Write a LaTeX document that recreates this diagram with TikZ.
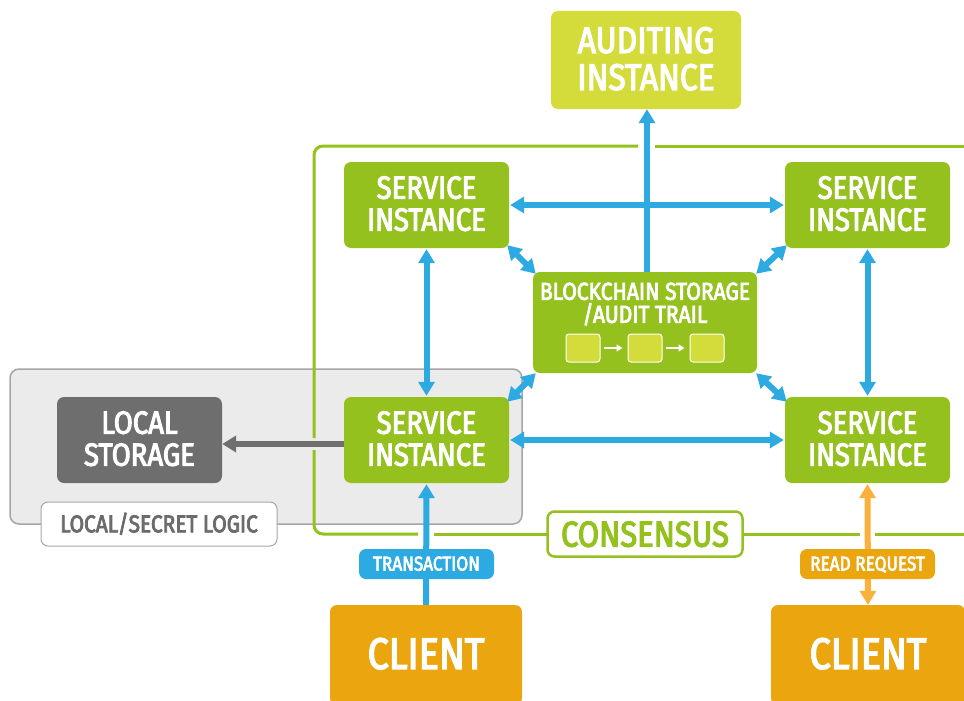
\documentclass[tikz,border=0pt]{standalone}
\usepackage{fontspec}
\setmainfont{Fira Sans}
\newfontfamily\din[FakeBold=3.2,FakeStretch=0.86]{Fira Sans}
\usetikzlibrary{arrows.meta}
\definecolor{grn}{HTML}{95C11F}
\definecolor{ylw}{HTML}{D4DC3C}
\definecolor{blu}{HTML}{2DAAE1}
\definecolor{org}{HTML}{EBA50E}
\definecolor{lorg}{HTML}{FBB03B}
\definecolor{dgr}{HTML}{6E6E6E}
\tikzset{
  box/.style={rounded corners=7pt,inner sep=0pt,align=center,text=white,text depth=3pt},
  boxtext/.style={font=\din\fontsize{#1}{#1}\selectfont},
  service/.style={box,fill=grn,minimum width=165pt,minimum height=86pt,boxtext=32},
  tag/.style={box,minimum width=135pt,minimum height=30pt,boxtext=20,text depth=1pt},
  client/.style={box,fill=org,minimum width=192pt,minimum height=100pt,boxtext=44},
  bi/.style={line width=6pt,blu,{Triangle[width=16pt,length=14pt]}-{Triangle[width=16pt,length=14pt]}},
  one/.style={line width=6pt,-{Triangle[width=16pt,length=14pt]}},
  bk/.style={draw=white,fill=ylw,line width=1pt,rounded corners=3pt,minimum width=34pt,minimum height=28pt,inner sep=0pt},
  wa/.style={draw=white,line width=1.6pt,-{Triangle[width=7pt,length=6pt]},shorten <=3pt,shorten >=5pt},
  cons/.style={draw=grn,line width=3pt},
}
\begin{document}
\begin{tikzpicture}[x=1pt,y=-1pt]
\useasboundingbox (0,0) rectangle (964,701);
% panel
\node[draw=black!35,fill=black!8,line width=1.5pt,rounded corners=9pt,minimum width=512pt,minimum height=155pt,inner sep=0pt] (panel) at (266,446.5) {};
% consensus frame
\coordinate (ctr) at (964,146);
\coordinate (cbr) at (964,534);
\draw[cons,rounded corners=9pt] (638,146) -- (314,146) -- (314,438);
\draw[cons] (655,146) -- (ctr);
\draw[cons,rounded corners=9pt] (314,450) -- (314,534) -- (418,534);
\draw[cons] (434,534) -- (547,534);
\draw[cons] (743,534) -- (860,534);
\draw[cons] (875,534) -- (cbr);
% nodes
\node[box,fill=ylw,minimum width=190pt,minimum height=98pt,boxtext=37] (audit) at (646,60) {AUDITING\\INSTANCE};
\node[service] (s1) at (426.5,205) {SERVICE\\INSTANCE};
\node[service] (s2) at (867.5,205) {SERVICE\\INSTANCE};
\node[service] (s3) at (426.5,440) {SERVICE\\INSTANCE};
\node[service] (s4) at (867.5,440) {SERVICE\\INSTANCE};
\node[box,fill=dgr,minimum width=165pt,minimum height=86pt,boxtext=32] (local) at (139.5,440) {LOCAL\\STORAGE};
\node[box,fill=grn,minimum width=224pt,minimum height=101pt] (chain) at (645,322.5) {};
\node[text=white,align=center,font=\din\fontsize{24.5}{23}\selectfont] (chaintxt) at (645,304) {BLOCKCHAIN STORAGE\\/AUDIT TRAIL};
\node[bk] (b1) at (583,348) {};
\node[bk] (b2) at (645,348) {};
\node[bk] (b3) at (707,348) {};
\draw[wa] (b1) -- (b2);
\draw[wa] (b2) -- (b3);
\node[client] (c1) at (426,655) {CLIENT};
\node[client,minimum width=194pt] (c2) at (868,655) {CLIENT};
\node[box,draw=black!35,fill=white,line width=1pt,minimum width=236pt,minimum height=44pt,text=black!58,boxtext=24.3] (logic) at (159,524) {LOCAL/SECRET LOGIC};
\node[box,draw=grn,fill=white,line width=2.5pt,minimum width=195pt,minimum height=45pt,text=grn,boxtext=36,text depth=0pt] (cnode) at (645,534) {CONSENSUS};
% connectors
\draw[one,dgr] (s3.west |- 0,444) -- (local.east |- 0,444);
\draw[bi] ([xshift=1pt]s1.east) -- ([xshift=-1pt]s2.west);
\draw[bi] ([xshift=1pt]s3.east) -- ([xshift=-1pt]s4.west);
\draw[bi] ([yshift=-1pt]s1.south) -- ([yshift=1pt]s3.north);
\draw[bi] ([yshift=-1pt]s2.south) -- ([yshift=1pt]s4.north);
\draw[one,blu] (chain.north -| 647,0) -- (audit.south -| 647,0);
\draw[bi] ([xshift=-2pt,yshift=3pt]s1.south east) -- ([xshift=3pt,yshift=-2pt]chain.north west);
\draw[bi] ([xshift=2pt,yshift=3pt]s2.south west) -- ([xshift=-1pt,yshift=-2pt]chain.north east);
\draw[bi] ([xshift=-2pt,yshift=-5pt]s3.north east) -- ([xshift=3pt,yshift=0pt]chain.south west);
\draw[bi] ([xshift=2pt,yshift=-5pt]s4.north west) -- ([xshift=-1pt,yshift=0pt]chain.south east);
\draw[one,blu] (c1.north) -- ([yshift=-1pt]s3.south);
\draw[line width=6pt,lorg,{Triangle[width=16pt,length=14pt]}-{Triangle[width=16pt,length=14pt]}] ([yshift=-1pt]s4.south) -- (c2.north);
\node[fill=blu,tag] (trans) at (426.5,564) {TRANSACTION};
\node[fill=org,tag] (read) at (867.5,564) {READ REQUEST};
\end{tikzpicture}
\end{document}
